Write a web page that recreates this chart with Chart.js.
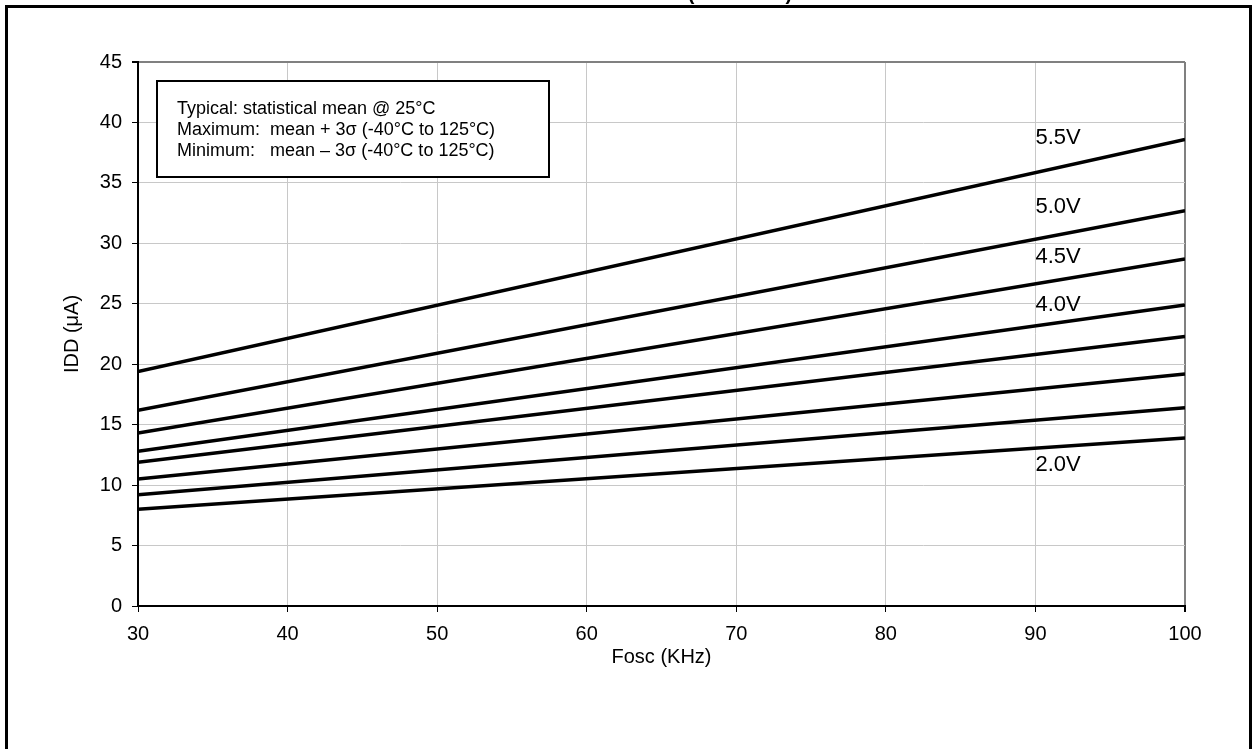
<!DOCTYPE html>
<html>
<head>
<meta charset="utf-8">
<script src="https://cdn.jsdelivr.net/npm/chart.js@4/dist/chart.umd.min.js"></script>
<style>
  html, body { margin: 0; padding: 0; background: #fff; }
  #wrap { width: 1255px; height: 749px; position: relative; }
</style>
</head>
<body>
<div id="wrap"><canvas id="chart"></canvas></div>
<script>
// Fosc (KHz) at the two ends of each line
const freqs = [30, 100];

// IDD (uA) per supply voltage, read at 30 and 100 KHz
const idd55 = [19.4, 38.6];
const idd50 = [16.2, 32.7];
const idd45 = [14.3, 28.7];
const idd40 = [12.8, 24.9];
const idd35 = [11.9, 22.3];
const idd30 = [10.5, 19.2];
const idd25 = [9.2, 16.4];
const idd20 = [8.0, 13.9];

const seriesNames = ['5.5V', '5.0V', '4.5V', '4.0V', '3.5V', '3.0V', '2.5V', '2.0V'];
const seriesValues = [idd55, idd50, idd45, idd40, idd35, idd30, idd25, idd20];

// curve labels drawn inside the plot (x in KHz, y in uA)
const curveLabels = ['5.5V', '5.0V', '4.5V', '4.0V', '2.0V'];
const curveLabelX = [90, 90, 90, 90, 90];
const curveLabelY = [38.7, 33.0, 28.9, 24.9, 11.7];

const noteLines = [
    'Typical: statistical mean @ 25\u00B0C',
    'Maximum:  mean + 3\u03C3 (-40\u00B0C to 125\u00B0C)',
    'Minimum:   mean \u2013 3\u03C3 (-40\u00B0C to 125\u00B0C)'
];

const FONT = "'Liberation Sans', Arial, sans-serif";

const decorPlugin = {
    id: 'decor',
    beforeDraw: function(chart) {
        const c = chart.ctx;
        c.save();
        c.fillStyle = '#fff';
        c.fillRect(0, 0, chart.width, chart.height);
        // outer frame
        c.strokeStyle = '#000';
        c.lineWidth = 3;
        c.strokeRect(6.5, 6.5, 1244, 760);
        // clipped figure title at the very top
        c.fillStyle = '#000';
        c.font = 'bold 20px ' + FONT;
        c.textAlign = 'center';
        c.textBaseline = 'alphabetic';
        c.fillText('(LP MODE)', 740, 0);
        c.restore();
    },
    afterDatasetsDraw: function(chart) {
        const c = chart.ctx;
        const xs = chart.scales.x;
        const ys = chart.scales.y;
        c.save();
        // curve labels
        c.fillStyle = '#000';
        c.font = '22px ' + FONT;
        c.textAlign = 'left';
        c.textBaseline = 'middle';
        curveLabels.forEach(function(t, i) {
            c.fillText(t, xs.getPixelForValue(curveLabelX[i]), ys.getPixelForValue(curveLabelY[i]));
        });
        // note box
        c.fillStyle = '#fff';
        c.fillRect(157, 81, 392, 96);
        c.strokeStyle = '#000';
        c.lineWidth = 2;
        c.strokeRect(157, 81, 392, 96);
        c.fillStyle = '#000';
        c.font = '18px ' + FONT;
        c.textBaseline = 'alphabetic';
        noteLines.forEach(function(t, i) {
            c.fillText(t, 177, 114 + i * 21);
        });
        c.restore();
    }
};

const datasets = seriesNames.map(function(name, i) {
    return {
        label: name,
        data: freqs.map(function(f, j) { return { x: f, y: seriesValues[i][j] }; }),
        borderColor: '#000',
        backgroundColor: '#000',
        borderWidth: 3.5,
        pointRadius: 0,
        fill: false,
        tension: 0
    };
});

new Chart(document.getElementById('chart').getContext('2d'), {
    type: 'line',
    data: { datasets: datasets },
    plugins: [decorPlugin],
    options: {
        responsive: true,
        maintainAspectRatio: false,
        animation: false,
        layout: { padding: { left: 0, top: 62, right: 70, bottom: 0 } },
        plugins: {
            legend: { display: false },
            tooltip: { enabled: false }
        },
        scales: {
            x: {
                type: 'linear',
                min: 30,
                max: 100,
                afterFit: function(scale) { scale.height = 143; },
                ticks: {
                    stepSize: 10,
                    color: '#000',
                    padding: 10,
                    font: { family: FONT, size: 20 }
                },
                grid: {
                    color: function(ctx) { return ctx.tick && ctx.tick.value === 100 ? '#808080' : '#c8c8c8'; },
                    lineWidth: function(ctx) { return ctx.tick && ctx.tick.value === 100 ? 2 : 1; },
                    tickColor: '#000',
                    tickLength: 6
                },
                border: { color: '#000', width: 2 },
                title: {
                    display: true,
                    text: 'Fosc (KHz)',
                    color: '#000',
                    font: { family: FONT, size: 20 },
                    padding: { top: 0, bottom: 80 }
                }
            },
            y: {
                type: 'linear',
                min: 0,
                max: 45,
                afterFit: function(scale) { scale.width = 138; },
                ticks: {
                    stepSize: 5,
                    color: '#000',
                    padding: 10,
                    font: { family: FONT, size: 20 }
                },
                grid: {
                    color: function(ctx) { return ctx.tick && ctx.tick.value === 45 ? '#808080' : '#c8c8c8'; },
                    lineWidth: function(ctx) { return ctx.tick && ctx.tick.value === 45 ? 2 : 1; },
                    tickColor: '#000',
                    tickLength: 6
                },
                border: { color: '#000', width: 2 },
                title: {
                    display: true,
                    text: 'IDD (\u03BCA)',
                    color: '#000',
                    font: { family: FONT, size: 20 },
                    padding: { top: 60, bottom: 0 }
                }
            }
        }
    }
});
</script>
</body>
</html>
